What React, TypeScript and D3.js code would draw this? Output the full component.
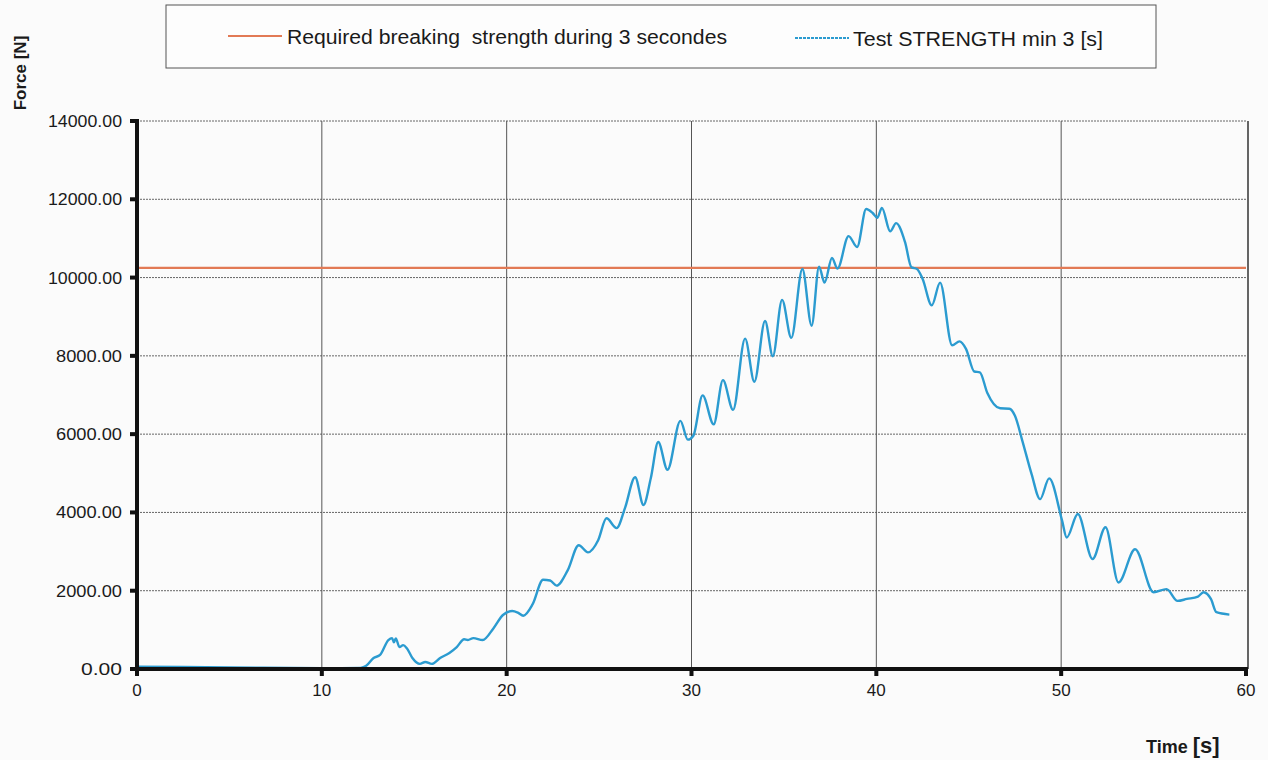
import React from "react";
import * as d3 from "d3";

const timeValues: number[] = [
  0, 5, 10, 12.1, 12.4, 12.8, 13.15, 13.6, 13.8, 13.9, 14.0, 14.2, 14.4, 14.6, 14.9, 15.3, 15.6, 15.95,
  16.4, 16.9, 17.3, 17.7, 17.9, 18.2, 18.7, 19.3, 19.8, 20.3, 20.6, 20.9, 21.4, 21.97, 22.35, 22.7,
  23.3, 23.9, 24.4, 24.95, 25.4, 25.95, 26.4, 26.95, 27.4, 27.8, 28.2, 28.7, 29.4, 29.8, 30.1, 30.6,
  31.2, 31.7, 32.25, 32.9, 33.4, 33.98, 34.4, 34.9, 35.4, 36.0, 36.5, 36.9, 37.2, 37.6, 37.9, 38.5,
  38.96, 39.45, 39.8, 40.05, 40.3, 40.75, 41.07, 41.55, 41.9, 42.2, 42.5, 43.0, 43.45, 44.1, 44.5,
  44.85, 45.3, 45.6, 46.0, 46.7, 47.2, 47.5, 47.9, 48.4, 48.86, 49.35, 50.05, 50.3, 50.9, 51.7, 52.4,
  53.1, 54.0, 55.0, 55.7, 56.3, 56.8, 57.4, 57.7, 58.1, 58.4, 59.1,
];

const forceValues: number[] = [
  60, 40, 20, 30, 80, 280, 360, 740, 790, 680, 780, 560, 610, 530, 280, 130, 180, 130,
  280, 410, 560, 760, 740, 790, 740, 1050, 1380, 1480, 1440, 1360, 1650, 2280, 2260, 2130,
  2520, 3160, 2980, 3290, 3850, 3600, 4110, 4900, 4190, 4880, 5800, 5090, 6340, 5860, 5960, 6990,
  6250, 7380, 6620, 8440, 7340, 8890, 7990, 9430, 8460, 10220, 8770, 10280, 9870, 10500, 10230, 11060,
  10780, 11750, 11650, 11530, 11780, 11180, 11390, 10910, 10260, 10220, 9970, 9290, 9870, 8270, 8370,
  8180, 7600, 7580, 7060, 6660, 6650, 6470, 5830, 4980, 4340, 4870, 3790, 3360, 3960, 2810, 3620,
  2210, 3060, 1960, 2040, 1740, 1790, 1850, 1960, 1790, 1450, 1390,
];

const requiredTimes: number[] = [0, 60];
const requiredValues: number[] = [10250, 10250];

const yTicks: number[] = [0, 2000, 4000, 6000, 8000, 10000, 12000, 14000];
const xTicks: number[] = [0, 10, 20, 30, 40, 50, 60];

const legendLabels: string[] = [
  "Required breaking  strength during 3 secondes",
  "Test STRENGTH min 3 [s]",
];

const W = 1268;
const H = 760;
const left = 137;
const right = 1246;
const top = 121;
const bottom = 669;

export default function App() {
  const x = d3.scaleLinear().domain([0, 60]).range([left, right]);
  const y = d3.scaleLinear().domain([0, 14000]).range([bottom, top]);

  const testData = timeValues.map((t, i) => [t, forceValues[i]] as [number, number]);
  const reqData = requiredTimes.map((t, i) => [t, requiredValues[i]] as [number, number]);

  const line = d3
    .line<[number, number]>()
    .x((d) => x(d[0]))
    .y((d) => y(d[1]))
    .curve(d3.curveMonotoneX);

  const font = "'Liberation Sans', Arial, sans-serif";
  const red = "#e27a55";
  const blue = "#2b9bd0";

  return (
    <svg
      width={W}
      height={H}
      style={{ position: "absolute", left: 0, top: 0, background: "#fbfbfb" }}
      fontFamily={font}
    >
      {/* legend */}
      <rect x={166} y={5} width={990} height={63} fill="#fdfdfd" stroke="#555" strokeWidth={1} />
      <line x1={228} x2={282} y1={36} y2={36} stroke={red} strokeWidth={2} />
      <text
        x={287}
        y={44}
        fontSize={20}
        fill="#1a1a1a"
        textLength={440}
        lengthAdjust="spacingAndGlyphs"
        style={{ whiteSpace: "pre" }}
      >
        {legendLabels[0]}
      </text>
      <line x1={795} x2={849} y1={38} y2={38} stroke={blue} strokeWidth={2} strokeDasharray="3,1" />
      <text x={853} y={46} fontSize={20} fill="#1a1a1a" textLength={250} lengthAdjust="spacingAndGlyphs">
        {legendLabels[1]}
      </text>

      {/* horizontal gridlines */}
      {yTicks.map((t) => (
        <line
          key={"hg" + t}
          x1={left}
          x2={right}
          y1={y(t)}
          y2={y(t)}
          stroke="#666"
          strokeWidth={1}
          strokeDasharray="2,1"
        />
      ))}
      {/* vertical gridlines */}
      {xTicks
        .filter((t) => t > 0 && t < 60)
        .map((t) => (
          <line key={"vg" + t} x1={x(t)} x2={x(t)} y1={top} y2={bottom} stroke="#555" strokeWidth={1} />
        ))}
      {/* right frame */}
      <line x1={right + 2} x2={right + 2} y1={top} y2={bottom} stroke="#333" strokeWidth={1.5} />

      {/* series */}
      <path d={line(reqData) || ""} fill="none" stroke={red} strokeWidth={2.2} />
      <path d={line(testData) || ""} fill="none" stroke={blue} strokeWidth={2.4} />

      {/* axes */}
      <line x1={left} x2={left} y1={top - 2} y2={bottom + 2} stroke="#111" strokeWidth={4} />
      <line x1={left} x2={right + 2} y1={bottom} y2={bottom} stroke="#111" strokeWidth={4} />
      {yTicks.map((t) => (
        <g key={"yt" + t}>
          <rect x={left - 7} y={y(t) - 2} width={6} height={4} fill="#111" />
          <text
            x={122}
            y={y(t) + 6}
            fontSize={16}
            textAnchor="end"
            fill="#1a1a1a"
            textLength={t >= 10000 ? 74 : t > 0 ? 66 : 41}
            lengthAdjust="spacingAndGlyphs"
          >
            {t.toFixed(2)}
          </text>
        </g>
      ))}
      {xTicks.map((t) => (
        <g key={"xt" + t}>
          <rect x={x(t) - 2} y={bottom} width={4} height={7} fill="#111" />
          <text x={x(t)} y={bottom + 27} fontSize={17} textAnchor="middle" fill="#1a1a1a">
            {t}
          </text>
        </g>
      ))}

      {/* axis titles */}
      <text
        transform="translate(26,73) rotate(-90)"
        fontSize={17}
        fontWeight="bold"
        textAnchor="middle"
        fill="#1a1a1a"
      >
        Force [N]
      </text>
      <text x={1146} y={753} fontWeight="bold" fill="#1a1a1a">
        <tspan fontSize={18}>Time </tspan>
        <tspan fontSize={22}>[s]</tspan>
      </text>
    </svg>
  );
}
